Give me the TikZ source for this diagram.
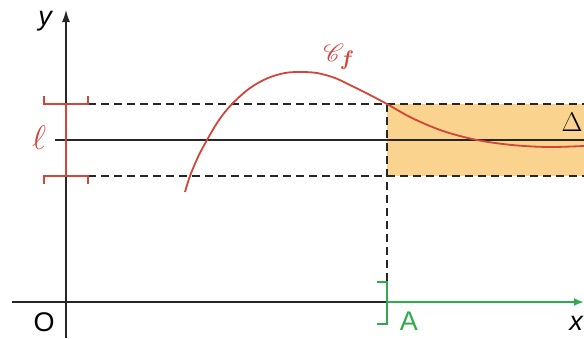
\RequirePackage{fix-cm}
\documentclass[tikz,border=0pt]{standalone}
\usepackage{fontspec}
\setmainfont{Liberation Sans}
\usepackage{amsmath}
\usepackage{mathrsfs}
\usetikzlibrary{arrows.meta, positioning}
\definecolor{curvered}{HTML}{D2453A}
\definecolor{bandorange}{HTML}{FAD48E}
\definecolor{limgreen}{HTML}{2FAA4C}

\begin{document}
\begin{tikzpicture}[x=1pt, y=-1pt,
  axis/.style={draw=black!85, line width=1.3pt},
  dash line/.style={draw=black!85, line width=1.2pt, dash pattern=on 8pt off 5pt},
  lbl/.style={font=\fontsize{27}{32}\selectfont, inner sep=0pt},
  redbr/.style={draw=curvered, line width=1.6pt},
  greenbr/.style={draw=limgreen, line width=1.8pt}
]
\useasboundingbox (0,0) rectangle (584,338);

% Key points
\coordinate (O) at (66,302);
\coordinate (ytop) at (66,10);
\coordinate (ybot) at (66,338);
\coordinate (xleft) at (12,302);
\coordinate (A) at (387,302);
\coordinate (xend) at (584,302);
\coordinate (bandtl) at (387,104);
\coordinate (bandbr) at (584,176);

% Band around the limit
\fill[bandorange] (bandtl) rectangle (bandbr);

% Dashed bounds and vertical dashed line
\coordinate (up0) at (88,104);
\coordinate (up1) at (584,104);
\coordinate (lo0) at (88,176);
\coordinate (lo1) at (584,176);
\coordinate (Atop) at (387,282);
\draw[dash line] (up0) -- (up1);
\draw[dash line] (lo0) -- (lo1);
\draw[dash line] (bandtl) -- (Atop);

% Asymptote Delta
\coordinate (d0) at (55,140);
\coordinate (d1) at (584,140);
\draw[axis] (d0) -- (d1);

% Axes
\draw[axis] (xleft) -- (A);
\draw[axis, -{Latex[length=12pt, width=8pt]}] (ybot) -- (ytop);
\draw[greenbr, line width=2.2pt, -{Latex[length=10pt, width=8pt]}] (A) -- (xend);

% Red interval on the y axis
\coordinate (rt0) at (44,96);
\coordinate (rt1) at (88,96);
\coordinate (rb0) at (44,184);
\coordinate (rb1) at (88,184);
\draw[redbr] (rt0) |- (66,104) -| (rt1);
\draw[redbr] (rb0) |- (66,176) -| (rb1);
\draw[redbr] (66,104) -- (66,176);

% Green bracket at A
\coordinate (gt) at (377,282);
\coordinate (gb) at (377,324);
\draw[greenbr] (gt) -- (387,282) -- (387,324) -- (gb);

% Curve C_f
\draw[curvered, line width=1.8pt] plot[smooth, tension=0.55] coordinates {
  (185,192) (190,176) (198,157) (207,140) (219,120) (232,104) (250,88)
  (268,78) (285,73) (300,72) (317,73) (335,78) (352,86) (370,95)
  (387,104) (412,118) (443,131) (477,140) (512,145) (548,147) (584,146)};

% Labels
\node[lbl, font=\fontsize{27}{32}\selectfont\itshape] (ylab) at (45,21) {y};
\node[lbl] (Olab) at (44,322) {O};
\node[lbl, font=\fontsize{27}{32}\selectfont\itshape] (xlab) at (576,323) {x};
\node[lbl, text=limgreen] (Alab) at (409,321) {A};
\node[lbl, text=curvered, font=\fontsize{34}{38}\selectfont] (ell) at (39,138) {$\ell$};
\node[lbl] (Dlab) at (572,122) {$\Delta$};
\node[lbl, text=curvered, font=\fontsize{30}{34}\selectfont] (Cf) at (339,57) {$\mathscr{C}_{\boldsymbol{f}}$};
\end{tikzpicture}
\end{document}
